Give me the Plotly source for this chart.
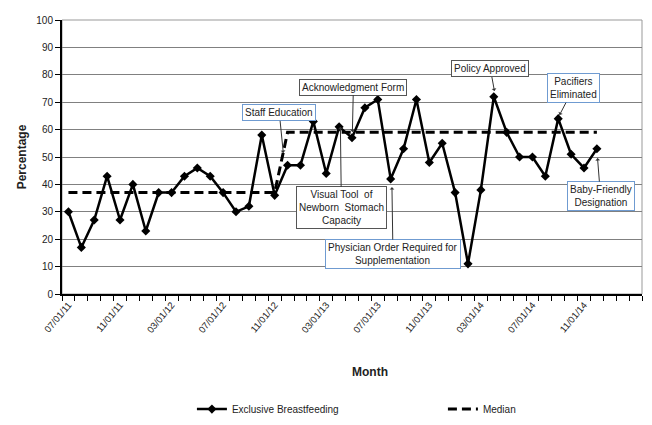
import plotly.graph_objects as go

months = ["07/01/11", "08/01/11", "09/01/11", "10/01/11", "11/01/11", "12/01/11",
          "01/01/12", "02/01/12", "03/01/12", "04/01/12", "05/01/12", "06/01/12",
          "07/01/12", "08/01/12", "09/01/12", "10/01/12", "11/01/12", "12/01/12",
          "01/01/13", "02/01/13", "03/01/13", "04/01/13", "05/01/13", "06/01/13",
          "07/01/13", "08/01/13", "09/01/13", "10/01/13", "11/01/13", "12/01/13",
          "01/01/14", "02/01/14", "03/01/14", "04/01/14", "05/01/14", "06/01/14",
          "07/01/14", "08/01/14", "09/01/14", "10/01/14", "11/01/14", "12/01/14"]
extra_months = ["01/01/15", "02/01/15", "03/01/15"]

exclusive_bf = [30, 17, 27, 43, 27, 40, 23, 37, 37, 43, 46, 43, 37, 30, 32, 58, 36,
                47, 47, 63, 44, 61, 57, 68, 71, 42, 53, 71, 48, 55, 37, 11, 38, 72,
                59, 50, 50, 43, 64, 51, 46, 53]
median = [37] * 17 + [59] * 25

tick_labels = ["07/01/11", "11/01/11", "03/01/12", "07/01/12", "11/01/12", "03/01/13",
               "07/01/13", "11/01/13", "03/01/14", "07/01/14", "11/01/14"]

# annotations: (text, tip position on month axis, tip y, ax px, ay px, border colour)
notes = [
    ("Staff Education", 16.67, 51.5, -4, -40, "#6f9bd1"),
    ("Acknowledgment Form", 22.03, 59.1, 1, -45, "#555555"),
    ("Visual Tool  of<br>Newborn  Stomach<br>Capacity", 21.1, 61.0, 1, 81, "#555555"),
    ("Physician Order Required for<br>Supplementation", 25.1, 39.0, 1, 67, "#6f9bd1"),
    ("Policy Approved", 33.05, 74.1, -4, -22, "#555555"),
    ("Pacifiers<br>Eliminated", 38.1, 65.3, 14, -27, "#6f9bd1"),
    ("Baby-Friendly<br>Designation", 41.05, 49.6, 3, 38, "#6f9bd1"),
]

FONT = "Liberation Sans, Arial, sans-serif"

all_months = months + extra_months
tick_text = [m if m in tick_labels else "" for m in all_months]

fig = go.Figure()
fig.add_trace(go.Scatter(
    x=months, y=exclusive_bf, mode="lines+markers", name="Exclusive Breastfeeding",
    line=dict(color="black", width=2.5),
    marker=dict(symbol="diamond", size=7, color="black"),
))
fig.add_trace(go.Scatter(
    x=months, y=median, mode="lines", name="Median",
    line=dict(color="black", width=3, dash="9px,5px"),
))

for text, xi, yv, ax, ay, bc in notes:
    fig.add_annotation(
        x=xi, y=yv, xref="x", yref="y", text=text, showarrow=True,
        ax=ax, ay=ay, arrowhead=1, arrowsize=0.8, arrowwidth=1, arrowcolor="#333333",
        bordercolor=bc, borderwidth=1, borderpad=2, bgcolor="white",
        font=dict(family=FONT, size=10, color="#222222"),
    )

fig.add_annotation(x=0.531, y=-0.285, xref="paper", yref="paper", text="<b>Month</b>",
                   showarrow=False, font=dict(family=FONT, size=12, color="#222222"),
                   yanchor="middle")

fig.add_shape(type="rect", xref="paper", yref="paper", x0=0, y0=0, x1=1, y1=1,
              line=dict(color="#999999", width=1), layer="below")

fig.update_layout(
    width=652, height=425,
    margin=dict(l=54, r=18, t=12, b=139, autoexpand=False),
    paper_bgcolor="white", plot_bgcolor="white",
    font=dict(family=FONT, size=10, color="#222222"),
    showlegend=True,
    legend=dict(orientation="h", x=0.224, y=-0.42, xanchor="left", yanchor="middle",
                entrywidth=206, entrywidthmode="pixels", itemwidth=30,
                font=dict(family=FONT, size=10, color="#222222")),
    xaxis=dict(
        type="category", categoryarray=all_months, categoryorder="array",
        range=[-0.5, 44.5], tickmode="array", tickvals=all_months, ticktext=tick_text,
        tickson="boundaries", tickangle=-50, ticks="outside", ticklen=5,
        tickcolor="black", showgrid=False, showline=True, linecolor="black",
        linewidth=1.5, tickfont=dict(size=9.5),
    ),
    yaxis=dict(
        range=[0, 100], dtick=10, ticks="outside", ticklen=5, tickcolor="black",
        showline=True, linecolor="black", linewidth=2, showgrid=True,
        gridcolor="#808080", gridwidth=1, zeroline=False,
        title=dict(text="<b>Percentage</b>", font=dict(size=12), standoff=7),
        tickfont=dict(size=10),
    ),
)

fig.write_html("out.html")
